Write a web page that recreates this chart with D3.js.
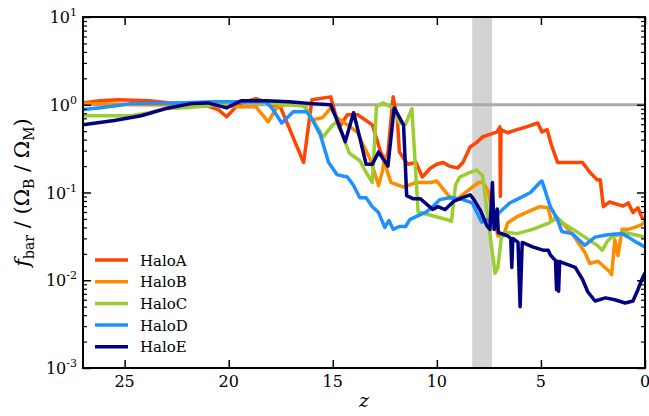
<!DOCTYPE html>
<html><head><meta charset="utf-8">
<script src="https://cdn.jsdelivr.net/npm/d3@7"></script>
<style>body{margin:0;background:#fff}svg{display:block}text{font-family:"DejaVu Serif",serif;fill:#000}</style>
</head><body><svg id="c" width="649" height="416"></svg>
<script>
const seriesNames = ["HaloA","HaloB","HaloC","HaloD","HaloE"];
const seriesColors = ["#ff4500","#ff8c00","#9acd32","#1e90ff","#000080"];
const xTicks = [25,20,15,10,5,0];
const yTicks = [1e-3,1e-2,1e-1,1,10];
const yTickExp = ["-3","-2","-1","0","1"];
const bandZ = [8.3,7.35];
const refLine = 1.0;

const zA = [27,26.2,25.3,23.8,22.8,21.9,21.2,20.5,20.1,19.5,18.7,18.1,17.5,16.4,16.0,15.1,14.7,14.3,13.8,13.1,12.7,12.4,12.1,11.9,11.8,11.4,11.0,10.7,10.3,10.0,9.7,9.4,9.0,8.75,8.4,8.1,7.8,7.45,7.1,6.97,6.95,6.92,6.6,6.15,5.7,5.15,4.95,4.7,4.5,4.2,3.4,3.0,2.65,2.3,2.15,2.0,1.7,1.05,0.8,0.58,0.34,0.15,0];
const vA = [1.05,1.11,1.14,1.11,1.05,1.03,1.0,0.88,0.73,1.03,1.17,1.05,0.92,0.22,1.14,1.23,0.55,0.77,0.77,0.59,0.29,0.21,1.23,0.71,0.29,0.21,0.22,0.15,0.19,0.21,0.22,0.2,0.19,0.22,0.33,0.37,0.43,0.46,0.49,0.56,0.09,0.52,0.48,0.52,0.56,0.62,0.49,0.52,0.35,0.22,0.22,0.22,0.17,0.14,0.14,0.069,0.078,0.07,0.076,0.059,0.067,0.052,0.049];

const zB = [27,23.8,21.4,19.5,18.7,18.1,17.7,17.3,16.4,16.0,15.5,15.1,14.8,14.3,13.8,13.6,13.2,13.0,12.8,12.6,12.5,12.4,12.2,11.6,11.0,10.3,10.0,9.7,9.4,9.0,8.4,8.0,7.8,7.55,7.3,7.07,6.8,6.6,6.15,5.5,5.05,4.65,4.5,4.2,3.5,2.9,2.65,2.25,1.7,1.6,1.45,1.3,1.1,0.8,0.5,0.15,0];
const vB = [1.03,1.0,1.0,0.95,0.95,0.64,0.92,1.0,1.03,0.67,0.71,0.92,0.71,0.59,0.48,0.37,0.24,0.17,0.12,0.18,0.26,0.18,0.13,0.115,0.13,0.13,0.135,0.11,0.09,0.085,0.11,0.13,0.13,0.107,0.056,0.032,0.032,0.045,0.053,0.062,0.069,0.067,0.047,0.051,0.034,0.021,0.0155,0.0165,0.0125,0.0116,0.029,0.019,0.038,0.038,0.04,0.043,0.047];

const zC = [27,24.7,23.8,23.1,22.3,21.0,19.4,18.0,16.4,16.1,15.6,15.5,15.0,14.8,14.5,14.2,13.7,13.4,13.1,12.9,12.6,12.1,11.8,11.5,11.2,10.9,10.3,9.5,9.3,9.1,8.9,8.4,8.1,7.8,7.6,7.35,7.2,7.07,6.9,6.6,6.15,5.4,4.6,4.25,3.95,3.45,2.8,2.3,2.05,1.8,1.6,0.95,0.5,0];
const vC = [0.75,0.75,0.81,0.9,0.92,0.97,1.1,1.03,0.97,0.75,0.49,0.42,0.59,0.64,0.43,0.28,0.23,0.17,0.13,0.95,1.05,0.92,0.62,0.6,0.9,0.06,0.055,0.049,0.047,0.122,0.15,0.17,0.18,0.155,0.064,0.022,0.012,0.014,0.031,0.035,0.034,0.038,0.045,0.053,0.045,0.038,0.03,0.025,0.022,0.028,0.031,0.035,0.033,0.031];

const zD = [27,26.25,25.5,24.7,22.4,20.8,19.1,18.2,17.9,17.45,16.9,16.25,16.0,15.6,15.2,14.8,14.3,14.0,13.7,13.4,13.1,12.8,12.5,12.3,12.1,11.8,11.5,11.3,11.0,10.5,10.2,9.85,9.4,8.75,8.3,7.85,7.6,7.35,6.97,6.5,6.0,5.5,5.05,4.95,4.55,4.2,4.0,3.5,2.9,2.4,1.8,1.1,0.8,0.4,0];
const vD = [0.88,0.92,0.97,1.03,1.05,1.08,1.08,1.08,0.9,0.62,0.83,0.83,0.69,0.455,0.22,0.16,0.15,0.12,0.087,0.087,0.069,0.059,0.04,0.048,0.038,0.041,0.041,0.049,0.053,0.06,0.069,0.083,0.087,0.083,0.076,0.046,0.049,0.047,0.06,0.076,0.087,0.1,0.13,0.135,0.069,0.049,0.036,0.034,0.025,0.031,0.033,0.034,0.031,0.027,0.024];

const zE = [27,25.5,24.2,22.9,21.8,21.0,20.1,19.4,18.2,17.1,16.0,15.1,14.8,14.4,14.0,13.7,13.4,13.1,12.8,12.35,12.05,11.6,11.45,11.15,10.8,10.5,10.2,9.95,9.6,9.2,8.8,8.4,8.25,7.9,7.6,7.45,7.33,7.25,7.1,7.05,6.6,6.45,6.4,6.35,6.1,6.0,5.9,5.4,4.9,4.65,4.55,4.3,4.25,4.2,4.15,4.1,4.0,3.35,3.0,2.75,2.4,1.9,1.45,0.95,0.58,0.34,0.15,0];
const vE = [0.59,0.66,0.75,0.92,1.03,1.05,0.92,1.11,1.11,1.08,1.03,1.0,0.67,0.38,0.81,0.42,0.21,0.21,0.29,0.2,0.92,0.59,0.092,0.085,0.085,0.074,0.064,0.069,0.064,0.079,0.087,0.094,0.085,0.062,0.042,0.038,0.13,0.038,0.065,0.035,0.032,0.03,0.014,0.03,0.027,0.005,0.027,0.024,0.022,0.022,0.0195,0.0167,0.0078,0.0165,0.0075,0.0164,0.016,0.014,0.0102,0.0074,0.0058,0.0063,0.006,0.0055,0.0058,0.0078,0.0102,0.0122];

const zs = [zA,zB,zC,zD,zE];
const vs = [vA,vB,vC,vD,vE];

const L = 83, R = 645, T = 17, B = 368;
const svg = d3.select("#c");
const x = d3.scaleLinear().domain([27,0]).range([L,R]);
const y = d3.scaleLog().domain([1e-3,10]).range([B,T]);

svg.append("rect").attr("x", x(bandZ[0])).attr("y", T).attr("width", x(bandZ[1]) - x(bandZ[0])).attr("height", B - T).attr("fill", "#d3d3d3");
svg.append("line").attr("x1", L).attr("x2", R).attr("y1", y(refLine)).attr("y2", y(refLine)).attr("stroke", "#a9a9a9").attr("stroke-width", 3);

svg.append("clipPath").attr("id","pc").append("rect").attr("x",L).attr("y",T).attr("width",R-L).attr("height",B-T);
const line = d3.line().x(d => x(d[0])).y(d => y(d[1]));
const g = svg.append("g").attr("clip-path","url(#pc)");
seriesNames.forEach((n,i) => {
  const data = zs[i].map((z,j) => [z, vs[i][j]]);
  g.append("path").datum(data).attr("d", line).attr("fill","none").attr("stroke", seriesColors[i]).attr("stroke-width", 3.5).attr("stroke-linejoin","round");
});

const minor = [];
for (let e = -3; e < 1; e++) for (let m = 2; m <= 9; m++) minor.push(m * Math.pow(10, e));
function yAx(orient, tx) {
  const ax = (orient === "left" ? d3.axisLeft(y) : d3.axisRight(y));
  svg.append("g").attr("transform", `translate(${tx},0)`).call(ax.tickValues(yTicks).tickSize(-8).tickFormat("")).call(s => s.select(".domain").remove()).selectAll("line").attr("stroke-width",1.5);
  const ax2 = (orient === "left" ? d3.axisLeft(y) : d3.axisRight(y));
  svg.append("g").attr("transform", `translate(${tx},0)`).call(ax2.tickValues(minor).tickSize(-4).tickFormat("")).call(s => s.select(".domain").remove()).selectAll("line").attr("stroke-width",1.2);
}
yAx("left", L); yAx("right", R);
function xAx(orient, ty) {
  const ax = (orient === "bottom" ? d3.axisBottom(x) : d3.axisTop(x));
  svg.append("g").attr("transform", `translate(0,${ty})`).call(ax.tickValues(xTicks).tickSize(-8).tickFormat("")).call(s => s.select(".domain").remove()).selectAll("line").attr("stroke-width",1.5);
}
xAx("bottom", B); xAx("top", T);

svg.append("rect").attr("x",L).attr("y",T).attr("width",R-L).attr("height",B-T).attr("fill","none").attr("stroke","#000").attr("stroke-width",2);

xTicks.forEach(t => {
  svg.append("text").attr("x", x(t)).attr("y", B + 19).attr("text-anchor","middle").attr("font-size", 16).text(t);
});
yTicks.forEach((t,i) => {
  const tx = svg.append("text").attr("x", L - 6).attr("y", y(t) + 6).attr("text-anchor","end").attr("font-size", 16);
  tx.append("tspan").text("10");
  tx.append("tspan").attr("dy", -7).attr("font-size", 11).text(yTickExp[i]);
});

svg.append("text").attr("x", (L+R)/2).attr("y", 407).attr("text-anchor","middle").attr("font-size", 19).attr("font-style","italic").text("z");
const yl = svg.append("text").attr("transform", `translate(29,${(T+B)/2}) rotate(-90)`).attr("text-anchor","middle").attr("font-size", 21);
yl.append("tspan").attr("font-style","italic").text("f");
yl.append("tspan").attr("font-size", 14).attr("dy", 5).text("bar");
yl.append("tspan").attr("dy", -5).text(" / (Ω");
yl.append("tspan").attr("font-size", 14).attr("dy", 5).text("B");
yl.append("tspan").attr("dy", -5).text(" / Ω");
yl.append("tspan").attr("font-size", 14).attr("dy", 5).text("M");
yl.append("tspan").attr("dy", -5).text(")");

const legY0 = 260, legDy = 21.7;
seriesNames.forEach((n,i) => {
  const yy = legY0 + i * legDy;
  svg.append("line").attr("x1", 95).attr("x2", 128).attr("y1", yy).attr("y2", yy).attr("stroke", seriesColors[i]).attr("stroke-width", 3.5);
  svg.append("text").attr("x", 140).attr("y", yy + 5.5).attr("font-size", 15).text(n);
});
</script></body></html>
